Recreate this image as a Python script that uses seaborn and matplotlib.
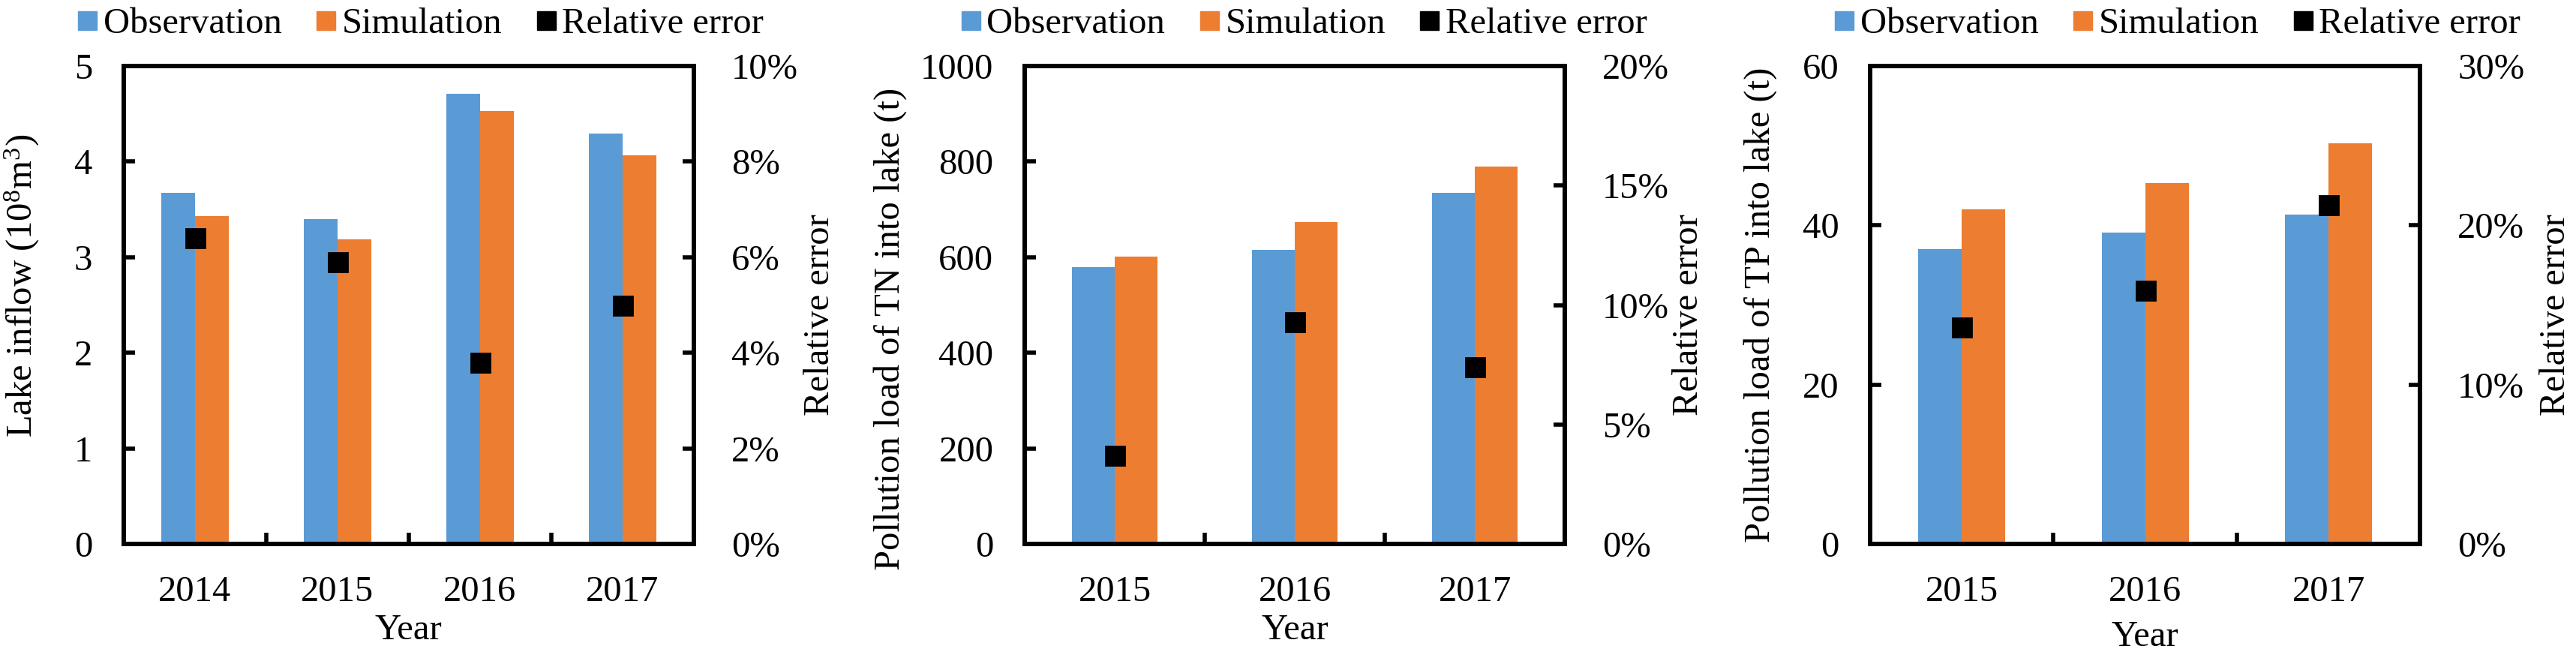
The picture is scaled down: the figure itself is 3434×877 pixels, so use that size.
import matplotlib
matplotlib.use("Agg")
import matplotlib.pyplot as plt
from matplotlib.lines import Line2D
from matplotlib.ticker import FuncFormatter
import numpy as np
import pandas as pd
import seaborn as sns

# ── Data ───────────────────────────────────────────────────────────────────
inflow_years = ["2014", "2015", "2016", "2017"]
inflow_obs   = [3.67, 3.40, 4.71, 4.29]
inflow_sim   = [3.43, 3.19, 4.53, 4.07]
inflow_err   = [6.4, 5.9, 3.8, 5.0]          # %

load_years = ["2015", "2016", "2017"]
tn_obs = [580, 616, 735]
tn_sim = [602, 674, 789]
tn_err = [3.7, 9.3, 7.4]                      # %

tp_obs = [37.0, 39.1, 41.4]
tp_sim = [42.0, 45.3, 50.3]
tp_err = [13.6, 15.9, 21.3]                   # %

BLUE   = "#5B9BD5"
ORANGE = "#ED7D31"

# ── Style ───────────────────────────────────────────────────────────────────
sns.set_style("ticks")
plt.rcParams["font.family"] = ["Liberation Serif", "DejaVu Serif"]
plt.rcParams["font.size"] = 35
plt.rcParams["mathtext.fontset"] = "custom"
plt.rcParams["mathtext.rm"] = "Liberation Serif"
plt.rcParams["mathtext.it"] = "Liberation Serif:italic"
plt.rcParams["axes.edgecolor"] = "black"
plt.rcParams["xtick.color"] = "black"
plt.rcParams["ytick.color"] = "black"
plt.rcParams["text.color"] = "black"
plt.rcParams["axes.labelcolor"] = "black"

SPINE_W = 4.3
TICK_LEN = 10.8
TICK_W = 4.0


def draw_panel(fig, rect, years, obs, sim, err, ymax, ystep, emax, estep,
               ylabel, ylabel_pos, rlabel_pos, year_y, legend_x):
    ax = fig.add_axes(rect)
    n = len(years)
    df = pd.DataFrame({
        "Year":   years + years,
        "value":  obs + sim,
        "series": ["Observation"] * n + ["Simulation"] * n,
    })
    sns.barplot(data=df, x="Year", y="value", hue="series",
                palette=[BLUE, ORANGE], width=0.474, saturation=1,
                errorbar=None, linewidth=0, legend=False, ax=ax)

    ax2 = ax.twinx()
    sns.pointplot(x=years, y=err, color="black", markers="s",
                  linestyles="none", errorbar=None, markersize=18, ax=ax2)

    # left axis
    ax.set_ylim(0, ymax)
    ax.set_yticks(np.arange(0, ymax + ystep / 2, ystep))
    ax.yaxis.set_major_formatter(FuncFormatter(lambda v, p: f"{v:g}"))
    ax.tick_params(axis="y", direction="in", length=TICK_LEN, width=TICK_W,
                   pad=30, left=True, right=False)
    ax.set_xlim(-0.5, n - 0.5)
    ax.set_xticks(np.arange(n))
    ax.set_xticklabels(years)
    ax.set_xticks(np.arange(n - 1) + 0.5, minor=True)
    ax.tick_params(axis="x", which="major", length=0, pad=30)
    ax.tick_params(axis="x", which="minor", direction="in", length=TICK_LEN,
                   width=TICK_W, bottom=True)
    ax.set_ylabel(ylabel, va="center")
    ax.yaxis.set_label_coords(*ylabel_pos)
    ax.set_xlabel("Year", va="center")
    ax.xaxis.set_label_coords(0.5, year_y)

    # right axis
    ax2.set_ylim(0, emax)
    ax2.set_yticks(np.arange(0, emax + estep / 2, estep))
    ax2.yaxis.set_major_formatter(FuncFormatter(lambda v, p: f"{v:.0f}%"))
    ax2.tick_params(axis="y", direction="in", length=TICK_LEN, width=TICK_W,
                    pad=36, right=True, left=False)
    ax2.set_ylabel("Relative error", va="center", rotation=90)
    ax2.yaxis.set_label_coords(*rlabel_pos)

    for a in (ax, ax2):
        for s in a.spines.values():
            s.set_visible(True)
            s.set_linewidth(SPINE_W)
            s.set_color("black")

    handles = [
        Line2D([], [], marker="s", ls="none", color=BLUE, markersize=18,
               label="Observation"),
        Line2D([], [], marker="s", ls="none", color=ORANGE, markersize=18,
               label="Simulation"),
        Line2D([], [], marker="s", ls="none", color="black", markersize=18,
               label="Relative error"),
    ]
    ax2.legend(handles=handles, loc="center", ncol=3, frameon=False,
               bbox_to_anchor=(legend_x, 0.9635),
               bbox_transform=fig.transFigure,
               handlelength=0.6, handletextpad=0.15, columnspacing=0.9,
               borderaxespad=0, borderpad=0)
    return ax, ax2


fig = plt.figure(figsize=(34.34, 8.77), dpi=100)
bottom, height = 0.1733, 0.7263

draw_panel(fig, [0.0480, bottom, 0.2213, height],
           inflow_years, inflow_obs, inflow_sim, inflow_err,
           5, 1, 10, 2,
           r"Lake inflow (10$^8$m$^3$)",
           (-0.178, 0.54), (1.222, 0.48), -0.18, 0.163)

draw_panel(fig, [0.3978, bottom, 0.2097, height],
           load_years, tn_obs, tn_sim, tn_err,
           1000, 200, 20, 5,
           "Pollution load of TN into lake (t)",
           (-0.249, 0.45), (1.229, 0.48), -0.18, 0.506)

draw_panel(fig, [0.7260, bottom, 0.2135, height],
           load_years, tp_obs, tp_sim, tp_err,
           60, 20, 30, 10,
           "Pollution load of TP into lake (t)",
           (-0.2005, 0.50), (1.247, 0.48), -0.195, 0.845)

fig.savefig("out.png", dpi=100)
